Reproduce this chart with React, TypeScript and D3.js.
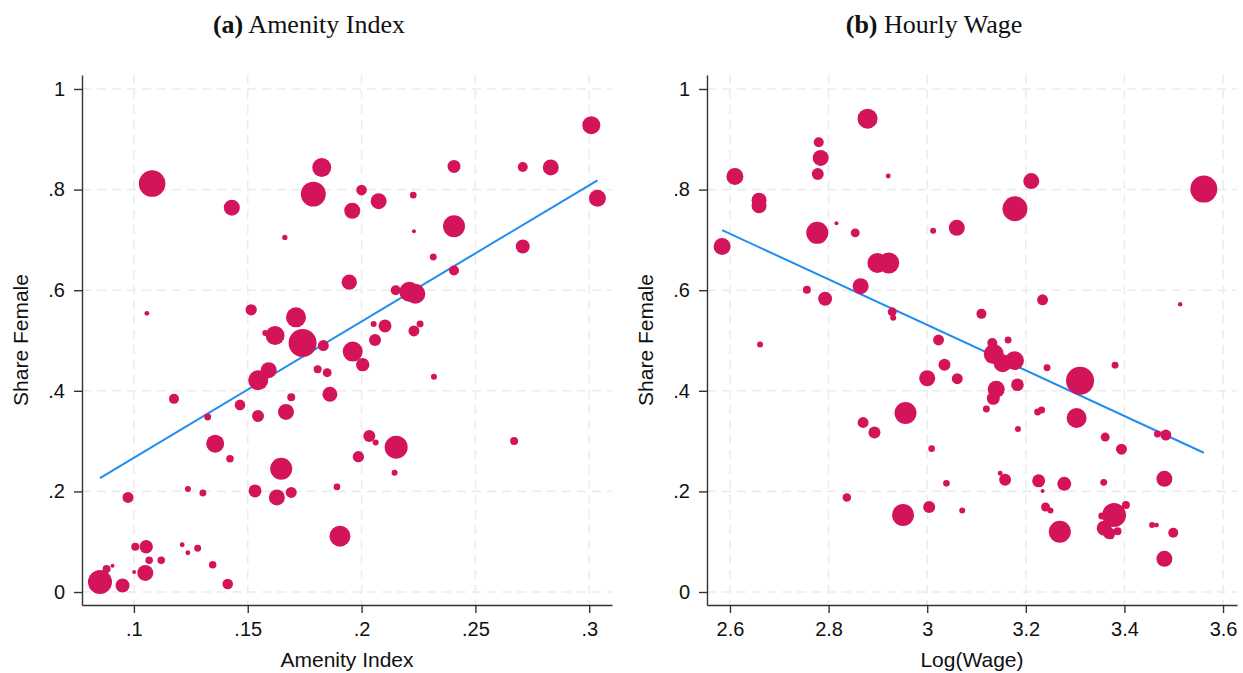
import * as d3 from "d3";
import { useRef, useEffect } from "react";

// panel (a): amenity index vs share female, bubble weight ~ occupation size
const amenityX = [0.108, 0.143, 0.1825, 0.1788, 0.1959, 0.1663, 0.1946, 0.1057, 0.1515, 0.1712, 0.162, 0.2, 0.2075, 0.2227, 0.2406, 0.223, 0.2406, 0.2708, 0.2831, 0.3009, 0.3036, 0.2708, 0.2315, 0.2406, 0.215, 0.221, 0.2236, 0.2053, 0.2103, 0.223, 0.2257, 0.1577, 0.1741, 0.1832, 0.1961, 0.2059, 0.2005, 0.1592, 0.1546, 0.1807, 0.1849, 0.1861, 0.1691, 0.1466, 0.1176, 0.1545, 0.1668, 0.1324, 0.1357, 0.1422, 0.1647, 0.1892, 0.1237, 0.1303, 0.1532, 0.1628, 0.1691, 0.0974, 0.1905, 0.1006, 0.1054, 0.1212, 0.1237, 0.128, 0.1067, 0.112, 0.1346, 0.1001, 0.105, 0.088, 0.0906, 0.0851, 0.095, 0.1412, 0.2034, 0.2062, 0.2152, 0.1986, 0.2145, 0.267, 0.2318];
const amenityShare = [0.812, 0.764, 0.844, 0.791, 0.758, 0.705, 0.616, 0.554, 0.561, 0.546, 0.51, 0.799, 0.777, 0.789, 0.846, 0.717, 0.727, 0.845, 0.844, 0.928, 0.783, 0.687, 0.666, 0.639, 0.6, 0.597, 0.593, 0.533, 0.529, 0.519, 0.533, 0.515, 0.495, 0.49, 0.478, 0.501, 0.452, 0.441, 0.421, 0.443, 0.436, 0.393, 0.387, 0.372, 0.384, 0.35, 0.358, 0.348, 0.295, 0.265, 0.245, 0.209, 0.205, 0.197, 0.201, 0.188, 0.198, 0.188, 0.111, 0.09, 0.09, 0.094, 0.078, 0.087, 0.063, 0.063, 0.054, 0.04, 0.038, 0.046, 0.052, 0.02, 0.013, 0.016, 0.31, 0.297, 0.288, 0.269, 0.237, 0.3, 0.428];
const amenityWeight = [177, 64, 90, 156, 64, 7, 59, 6, 32, 100, 90, 28, 64, 11, 42, 4, 121, 25, 64, 81, 72, 49, 12, 25, 25, 100, 100, 9, 42, 30, 12, 9, 196, 30, 100, 36, 45, 64, 100, 16, 20, 56, 16, 28, 25, 36, 64, 12, 81, 14, 121, 11, 9, 12, 42, 64, 30, 30, 110, 16, 45, 6, 6, 12, 14, 14, 14, 4, 64, 16, 4, 144, 49, 28, 36, 9, 132, 32, 9, 16, 9];

// panel (b): log wage vs share female
const wageX = [2.879, 2.78, 2.784, 2.778, 2.921, 2.61, 2.659, 2.659, 2.816, 2.777, 2.854, 3.012, 3.06, 2.584, 2.899, 2.922, 2.865, 2.756, 2.793, 2.929, 2.931, 3.023, 3.211, 3.178, 3.561, 3.234, 3.11, 3.513, 2.661, 3.035, 3.0, 3.061, 2.956, 2.87, 2.893, 3.009, 3.039, 2.837, 2.951, 3.004, 3.071, 3.132, 3.164, 3.135, 3.153, 3.177, 3.243, 3.381, 3.31, 3.14, 3.134, 3.183, 3.12, 3.224, 3.232, 3.303, 3.184, 3.361, 3.394, 3.467, 3.484, 3.148, 3.158, 3.226, 3.234, 3.278, 3.358, 3.481, 3.24, 3.25, 3.269, 3.379, 3.403, 3.354, 3.359, 3.369, 3.386, 3.373, 3.456, 3.465, 3.499, 3.481];
const wageShare = [0.941, 0.894, 0.863, 0.831, 0.827, 0.826, 0.779, 0.768, 0.733, 0.714, 0.714, 0.718, 0.724, 0.687, 0.654, 0.654, 0.608, 0.601, 0.583, 0.557, 0.545, 0.501, 0.817, 0.762, 0.801, 0.581, 0.553, 0.572, 0.492, 0.452, 0.425, 0.424, 0.356, 0.337, 0.317, 0.285, 0.216, 0.188, 0.153, 0.169, 0.162, 0.495, 0.501, 0.473, 0.455, 0.46, 0.446, 0.451, 0.42, 0.403, 0.385, 0.412, 0.364, 0.358, 0.362, 0.346, 0.324, 0.308, 0.284, 0.314, 0.312, 0.236, 0.223, 0.221, 0.201, 0.215, 0.218, 0.225, 0.169, 0.162, 0.12, 0.153, 0.173, 0.151, 0.127, 0.117, 0.121, 0.111, 0.133, 0.133, 0.118, 0.066];
const wageWeight = [100, 25, 64, 36, 6, 72, 56, 56, 4, 121, 20, 9, 64, 72, 100, 110, 64, 16, 49, 20, 9, 30, 64, 156, 182, 30, 25, 5, 9, 36, 64, 30, 121, 30, 36, 11, 11, 18, 121, 36, 9, 25, 12, 100, 81, 90, 12, 12, 196, 72, 42, 40, 12, 12, 12, 100, 9, 20, 30, 12, 30, 6, 36, 42, 4, 49, 12, 64, 20, 9, 121, 144, 16, 12, 56, 36, 16, 9, 9, 6, 25, 64];

// linear fits (intercept, slope)
const amenityFit = [-0.004, 2.709];
const wageFit = [1.89, -0.453];

const shareTicks = [0, 0.2, 0.4, 0.6, 0.8, 1];
const amenityTicks = [0.1, 0.15, 0.2, 0.25, 0.3];
const wageTicks = [2.6, 2.8, 3, 3.2, 3.4, 3.6];

const dotColor = "#d4145a";
const fitColor = "#1e8cf0";
const gridColor = "#ececec";
const axisColor = "#333";
const sans = "'Liberation Sans', Arial, Helvetica, sans-serif";
const serif = "'Liberation Serif', 'Times New Roman', serif";

const fmt = (v: number) => String(+v.toFixed(2)).replace(/^0\./, ".");
const radius = d3.scaleSqrt().domain([0, 196]).range([0, 14]);

function Panel({ left, tag, title, xLabel, xs, ys, ws, xDomain, xTicks, fit }: any) {
  const gx = useRef<SVGGElement>(null);
  const gy = useRef<SVGGElement>(null);
  const top = 75, bottom = 605;
  const x0 = left + 82, x1 = left + 612;
  const x = d3.scaleLinear(xDomain, [x0, x1]);
  const y = d3.scaleLinear([-0.0258, 1.0278], [bottom, top]);

  useEffect(() => {
    const style = (g: any) => {
      g.attr("font-size", 20).attr("font-family", sans);
      g.select(".domain").attr("stroke", axisColor).attr("stroke-width", 1.4);
      g.selectAll(".tick line").attr("stroke", axisColor).attr("stroke-width", 1.4);
      g.selectAll(".tick text").attr("fill", "#111");
    };
    d3.select(gx.current).call(
      d3.axisBottom(x).tickValues(xTicks).tickFormat(fmt as any).tickSize(8).tickPadding(9).tickSizeOuter(0) as any
    ).call(style);
    d3.select(gy.current).call(
      d3.axisLeft(y).tickValues(shareTicks).tickFormat(fmt as any).tickSize(8).tickPadding(9).tickSizeOuter(0) as any
    ).call(style);
  }, [x, y, xTicks]);

  const pts = xs.map((v: number, i: number) => ({ x: v, y: ys[i], w: ws[i] }));
  const fx = d3.extent(xs) as [number, number];
  const line = d3.line<number>().x((d) => x(d)).y((d) => y(fit[0] + fit[1] * d));

  return (
    <g>
      <text x={left + 309} y={33} textAnchor="middle" fontFamily={serif} fontSize={26} fill="#111">
        <tspan fontWeight="bold">({tag})</tspan> {title}
      </text>
      <g stroke={gridColor} strokeWidth={1.6} strokeDasharray="9,6">
        {shareTicks.map((t) => (
          <line key={"h" + t} x1={x0} x2={x1} y1={y(t)} y2={y(t)} />
        ))}
        {xTicks.map((t: number) => (
          <line key={"v" + t} x1={x(t)} x2={x(t)} y1={top} y2={bottom} />
        ))}
      </g>
      <path d={line(fx) ?? ""} fill="none" stroke={fitColor} strokeWidth={2} />
      <g fill={dotColor}>
        {pts.map((d: any, i: number) => (
          <circle key={i} cx={x(d.x)} cy={y(d.y)} r={radius(d.w)} />
        ))}
      </g>
      <g ref={gx} transform={`translate(0,${bottom})`} />
      <g ref={gy} transform={`translate(${x0},0)`} />
      <text x={(x0 + x1) / 2} y={667} textAnchor="middle" fontFamily={sans} fontSize={21} fill="#111">
        {xLabel}
      </text>
      <text
        transform={`translate(${left + 28},${(top + bottom) / 2}) rotate(-90)`}
        textAnchor="middle"
        fontFamily={sans}
        fontSize={21}
        fill="#111"
      >
        Share Female
      </text>
    </g>
  );
}

export default function App() {
  return (
    <svg width={1243} height={673} style={{ position: "absolute", left: 0, top: 0, background: "#fff" }}>
      <rect width={1243} height={673} fill="#fff" />
      <Panel
        left={0}
        tag="a"
        title="Amenity Index"
        xLabel="Amenity Index"
        xs={amenityX}
        ys={amenityShare}
        ws={amenityWeight}
        xDomain={[0.0772, 0.31]}
        xTicks={amenityTicks}
        fit={amenityFit}
      />
      <Panel
        left={625}
        tag="b"
        title="Hourly Wage"
        xLabel="Log(Wage)"
        xs={wageX}
        ys={wageShare}
        ws={wageWeight}
        xDomain={[2.5534, 3.6283]}
        xTicks={wageTicks}
        fit={wageFit}
      />
    </svg>
  );
}
